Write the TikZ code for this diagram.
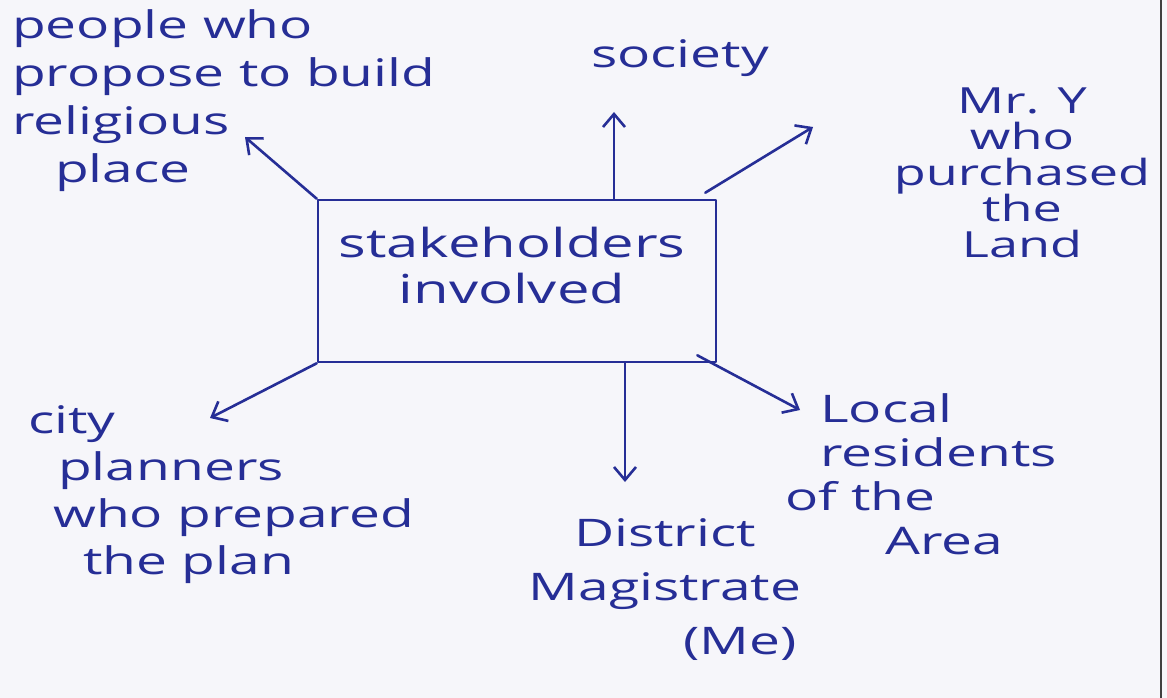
\documentclass[tikz,border=0pt]{standalone}
\usepackage{fontspec}
\setmainfont{Open Sans}
\newfontfamily\handfont[FakeStretch=1.45]{Open Sans}
\usetikzlibrary{arrows.meta}
\definecolor{ink}{RGB}{38,46,150}
\definecolor{paper}{RGB}{246,246,250}
\tikzset{
  ink/.style={draw=ink, line width=2.6pt, line cap=round, line join=round},
  arr/.style={ink, -{Straight Barb[length=13pt,width=22pt,line width=2.6pt]}},
  lbl/.style={text=ink, inner sep=0pt, font=\handfont\fontsize{38}{48}\selectfont},
  boxtext/.style={text=ink, inner sep=0pt, align=center, font=\handfont\fontsize{40}{46}\selectfont}
}
\begin{document}
\begin{tikzpicture}[x=1pt,y=-1pt]
\fill[paper] (0,0) rectangle (1167,698);
\useasboundingbox (0,0) rectangle (1167,698);
\draw[black!75, line width=2pt] (1161,0) -- (1161,698);

% central box
\node[ink, minimum width=398pt, minimum height=162pt, inner sep=0pt] (box) at (517,281) {};
\node[boxtext] (boxlbl) at (512,265) {stakeholders\\involved};

% labels
\node[lbl, anchor=north west, align=left] (people) at (12,9)
  {people who\\propose to build\\religious\\\hspace*{43pt}place};
\node[lbl, anchor=center] (society) at (680,58) {society};
\node[lbl, anchor=north, align=center, font=\handfont\fontsize{36}{36}\selectfont] (mry) at (1022,88)
  {Mr. Y\\who\\purchased\\the\\Land};
\node[lbl, anchor=north west, align=left, font=\handfont\fontsize{38}{47}\selectfont] (city) at (28,405)
  {city\\\hspace*{30pt}planners\\\hspace*{25pt}who prepared\\\hspace*{55pt}the plan};
\node[lbl, anchor=north, align=center, font=\handfont\fontsize{38}{54}\selectfont] (dm) at (665,518)
  {District\\Magistrate\\\hspace*{150pt}(Me)};
\node[lbl, anchor=north west, align=left, font=\handfont\fontsize{38}{44}\selectfont] (local) at (785,393)
  {\hspace*{35pt}Local\\\hspace*{35pt}residents\\of the\\\hspace*{100pt}Area};

% arrow tips
\coordinate (tPeople) at (245,137);
\coordinate (tSociety) at (614,112);
\coordinate (tMrY) at (813,127);
\coordinate (tCity) at (210,418);
\coordinate (tDM) at (625,482);
\coordinate (tLocal) at (800,410);

% connectors
\draw[arr] (box.north west) -- (tPeople);
\draw[arr] (tSociety |- box.north) -- (tSociety);
\draw[arr] ([xshift=-12pt,yshift=6pt]box.north east) -- (tMrY);
\draw[arr] (box.south west) -- (tCity);
\draw[arr] (tDM |- box.south) -- (tDM);
\draw[arr] ([xshift=-20pt,yshift=8pt]box.south east) -- (tLocal);
\end{tikzpicture}
\end{document}
